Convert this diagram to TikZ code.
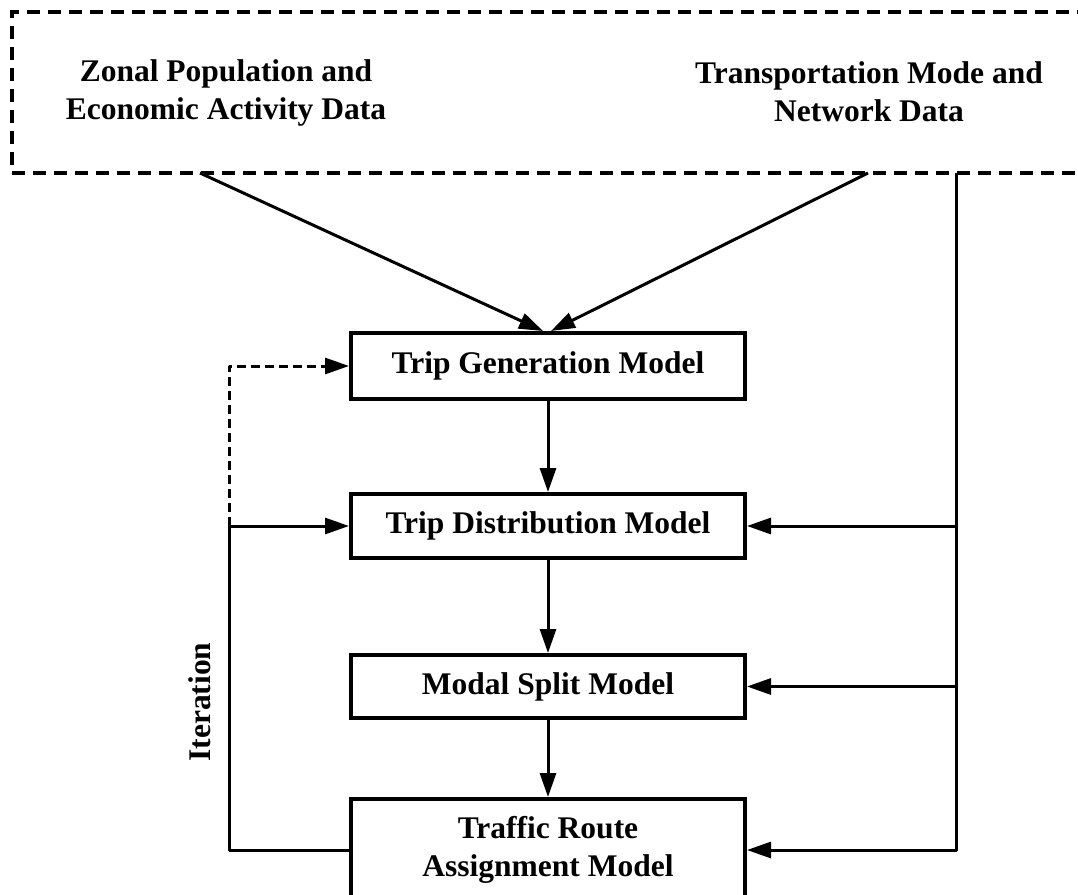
\documentclass[tikz,border=0pt]{standalone}
\usepackage{fontspec}
\setmainfont{Liberation Serif}
\usetikzlibrary{arrows.meta,calc}
\begin{document}
\begin{tikzpicture}[x=1pt,y=-1pt,
  txt/.style={align=center,inner sep=0pt,font=\bfseries\fontsize{31.5}{38}\selectfont},
  mbox/.style={txt,draw,line width=4pt,minimum width=394pt},
  conn/.style={line width=3pt,line join=round,-{Triangle[length=24pt,width=16pt]}},
  srcbox/.style={draw,line width=4pt,dash pattern=on 13pt off 8pt,inner sep=0pt},
  iterline/.style={conn,line width=3pt,dash pattern=on 9pt off 5pt}
]
\clip (0,0) rectangle (1078,894);
\node[srcbox,minimum width=1078pt,minimum height=161pt] (src) at (551,92.5) {};
\node[txt] (zonal) at (226,93) {Zonal Population and\\Economic Activity Data};
\node[txt] (transp) at (869,92) {Transportation Mode and\\Network Data};

\node[mbox,minimum height=66pt] (gen) at (548,366) {Trip Generation Model};
\node[mbox,minimum height=64pt] (dist) at (548,526) {Trip Distribution Model};
\node[mbox,minimum height=63pt] (modal) at (548,686.5) {Modal Split Model};
\node[mbox,minimum height=102pt] (route) at (548,850) {Traffic Route\\Assignment Model};

\node[txt,rotate=90] (iter) at (200,702) {Iteration};

\coordinate (s1) at (200,173);
\coordinate (s2) at (868,173);
\coordinate (bus) at (956,173);
\coordinate (lp) at (229,526);

\draw[conn] (s1) -- ($(gen.north)+(-5,0)$);
\draw[conn] (s2) -- ($(gen.north)+(3,0)$);
\draw[conn] (gen) -- (dist);
\draw[conn] (dist) -- (modal);
\draw[conn] (modal) -- (route);
\draw[conn] (bus) |- (route.east);
\draw[conn] (dist.east -| bus) -- (dist.east);
\draw[conn] (modal.east -| bus) -- (modal.east);
\draw[conn] (route.west) -| (lp) -- (dist.west);
\draw[iterline] (lp) |- (gen.west);
\end{tikzpicture}
\end{document}
